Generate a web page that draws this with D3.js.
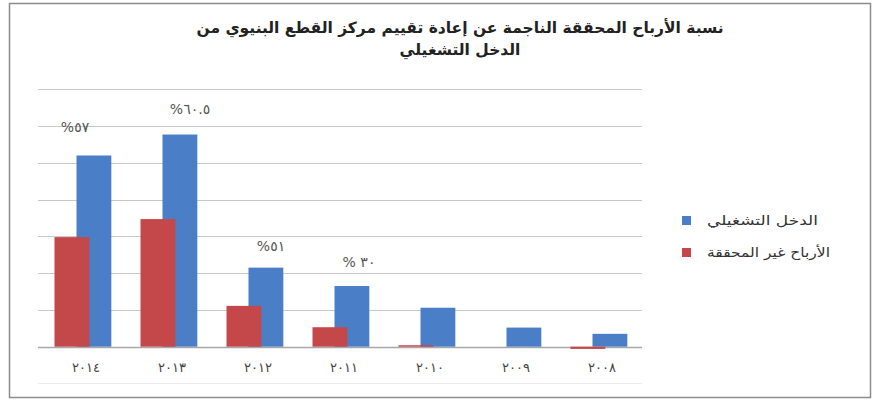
<!DOCTYPE html>
<html>
<head>
<meta charset="utf-8">
<script src="https://cdn.jsdelivr.net/npm/d3@7"></script>
<style>
  body { margin: 0; background: #fff; }
  svg { font-family: "DejaVu Sans", Arial, sans-serif; }
</style>
</head>
<body>
<svg id="chart" width="881" height="405"></svg>
<script>
// data (gridline = 10)
var years = ["2014", "2013", "2012", "2011", "2010", "2009", "2008"]
var yearLabels = ["٢٠١٤", "٢٠١٣", "٢٠١٢", "٢٠١١", "٢٠١٠", "٢٠٠٩", "٢٠٠٨"]
var income = [52, 57.7, 21.5, 16.5, 10.6, 5.2, 3.5]        // الدخل التشغيلي
var gains = [29.8, 34.7, 11.1, 5.3, 0.4, 0, -0.6]          // الأرباح غير المحققة
var ratioLabels = ["%٥٧", "%٦٠.٥", "%٥١", "% ٣٠", "", "", ""]
var yTicks = [0, 10, 20, 30, 40, 50, 60, 70]

var titleLines = ["نسبة الأرباح المحققة الناجمة عن إعادة تقييم مركز القطع البنيوي من", "الدخل التشغيلي"]
var seriesNames = ["الدخل التشغيلي", "الأرباح غير المحققة"]
var colorBlue = "#4a7ec6", colorRed = "#c4484a"

// the ratio labels were placed by hand in the original, nudge them the same way
var labelNudge = [[-8, -23], [21, -21], [16, -17], [18, -19], [0, 0], [0, 0], [0, 0]]

var svg = d3.select("#chart")

// outer frame
svg.append("rect")
    .attr("x", 9.5).attr("y", 3.5)
    .attr("width", 861).attr("height", 394)
    .attr("fill", "#fff")
    .attr("stroke", "#8c8c8c")
    .attr("stroke-width", 1.5)

// title
svg.append("g").selectAll("text")
    .data(titleLines)
    .enter().append("text")
    .attr("x", 460)
    .attr("y", function(d, i) { return 33 + i * 22 })
    .attr("text-anchor", "middle")
    .style("font-size", "15.5px")
    .style("font-weight", "bold")
    .attr("fill", "#222")
    .text(function(d) { return d })

var x = d3.scaleBand()
    .domain(years)
    .range([40, 642])

var y = d3.scaleLinear()
    .domain([0, 70])
    .range([346.7, 89.3])

var barW = x.bandwidth() * 0.405

// gridlines
svg.append("g").selectAll("line")
    .data(yTicks)
    .enter().append("line")
    .attr("x1", 38).attr("x2", 642)
    .attr("y1", function(d) { return Math.round(y(d)) + 0.5 })
    .attr("y2", function(d) { return Math.round(y(d)) + 0.5 })
    .attr("stroke", function(d) { return d === 0 ? "#a8a8a8" : "#c8c8c8" })
    .attr("stroke-width", function(d) { return d === 0 ? 1.5 : 1 })

// blue bars (behind)
svg.append("g").selectAll("rect")
    .data(income)
    .enter().append("rect")
    .attr("x", function(d, i) { return x(years[i]) + x.bandwidth() / 2 - 6.5 })
    .attr("y", function(d) { return y(Math.max(0, d)) })
    .attr("width", barW)
    .attr("height", function(d) { return Math.abs(y(d) - y(0)) })
    .attr("fill", colorBlue)

// red bars (in front)
svg.append("g").selectAll("rect")
    .data(gains)
    .enter().append("rect")
    .attr("x", function(d, i) { return x(years[i]) + x.bandwidth() / 2 - 28.5 })
    .attr("y", function(d) { return y(Math.max(0, d)) })
    .attr("width", barW)
    .attr("height", function(d) { return Math.abs(y(d) - y(0)) })
    .attr("fill", colorRed)

// ratio labels
svg.append("g").selectAll("text")
    .data(ratioLabels)
    .enter().append("text")
    .attr("x", function(d, i) { return x(years[i]) + x.bandwidth() / 2 + labelNudge[i][0] })
    .attr("y", function(d, i) { return y(income[i]) + labelNudge[i][1] })
    .attr("text-anchor", "middle")
    .style("font-size", "14px")
    .style("letter-spacing", "1px")
    .attr("fill", "#555")
    .text(function(d) { return d })

// x labels
svg.append("g").selectAll("text")
    .data(yearLabels)
    .enter().append("text")
    .attr("x", function(d, i) { return x(years[i]) + x.bandwidth() / 2 + 3 })
    .attr("y", 372)
    .attr("text-anchor", "middle")
    .style("font-size", "13px")
    .style("letter-spacing", "6px")
    .attr("fill", "#444")
    .text(function(d) { return d })

// faint plot bottom line
svg.append("line")
    .attr("x1", 38).attr("x2", 642)
    .attr("y1", 383.5).attr("y2", 383.5)
    .attr("stroke", "#ececec")

// legend
var key = svg.append("g").attr("transform", "translate(682,216)")
key.selectAll("rect")
    .data([colorBlue, colorRed])
    .enter().append("rect")
    .attr("x", 0)
    .attr("y", function(d, i) { return i * 32 })
    .attr("width", 9).attr("height", 9)
    .attr("fill", function(d) { return d })
key.selectAll("text")
    .data(seriesNames)
    .enter().append("text")
    .attr("x", 25)
    .attr("y", function(d, i) { return i * 32 + 9 })
    .attr("textLength", function(d, i) { return i === 0 ? 111 : 123 })
    .attr("lengthAdjust", "spacingAndGlyphs")
    .style("font-size", "13px")
    .attr("fill", "#333")
    .text(function(d) { return d })
</script>
</body>
</html>
